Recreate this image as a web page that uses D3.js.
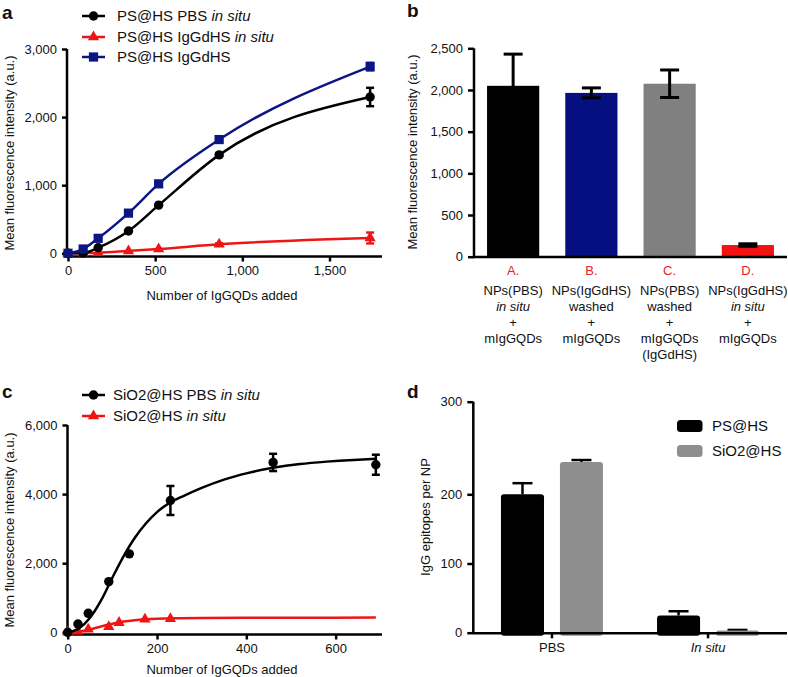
<!DOCTYPE html>
<html lang="en">
<head>
<meta charset="utf-8">
<title>IgG epitope fluorescence panels</title>
<script src="https://d3js.org/d3.v7.min.js"></script>
<style>
  body { margin: 0; background: #fff; }
  svg text { font-family: "Liberation Sans", Arial, Helvetica, sans-serif; fill: #111; }
</style>
</head>
<body>
<script>

// ---- panel a data ----
var aX = [0, 87, 173, 347, 520, 867, 1733];
var aPBS = [0, 5, 82, 327, 707, 1445, 2295];
var aPBSErr = [0, 0, 0, 0, 0, 20, 135];
var aInSitu = [0, 3, 8, 35, 63, 132, 225];
var aInSituErr = [0, 0, 0, 0, 0, 15, 80];
var aIgGdHS = [0, 63, 220, 590, 1020, 1670, 2742];
var aIgGdHSErr = [0, 0, 0, 0, 25, 25, 55];
var aYTicks = [0, 1000, 2000, 3000];
var aXTicks = [0, 500, 1000, 1500];

// ---- panel b data ----
var bCats = ["A.", "B.", "C.", "D."];
var bLines = [
  [["NPs(PBS)", false], ["in situ", true], ["+", false], ["mIgGQDs", false]],
  [["NPs(IgGdHS)", false], ["washed", false], ["+", false], ["mIgGQDs", false]],
  [["NPs(PBS)", false], ["washed", false], ["+", false], ["mIgGQDs", false], ["(IgGdHS)", false]],
  [["NPs(IgGdHS)", false], ["in situ", true], ["+", false], ["mIgGQDs", false]]
];
var bValues = [2050, 1965, 2075, 140];
var bErr = [380, 60, 165, 15];
var bColors = ["#000000", "#050f80", "#808080", "#f21212"];
var bYTicks = [0, 500, 1000, 1500, 2000, 2500];

// ---- panel c data ----
var cPBSX = [0, 23, 46, 92, 138, 230, 460, 690];
var cPBS = [0, 240, 550, 1467, 2270, 3815, 4917, 4850];
var cPBSErr = [0, 0, 0, 0, 0, 420, 250, 290];
var cPBSFitX = [0, 25, 50, 75, 100, 125, 150, 175, 200, 230, 260, 300, 350, 400, 460, 520, 580, 640, 690];
var cPBSFit = [0, 110, 420, 930, 1580, 2200, 2730, 3150, 3480, 3760, 3950, 4180, 4420, 4600, 4760, 4870, 4940, 4990, 5020];
var cInSituX = [0, 23, 46, 92, 115, 173, 230];
var cInSitu = [0, 30, 85, 160, 280, 375, 395];
var cInSituFitX = [0, 25, 50, 75, 100, 125, 150, 175, 200, 250, 300, 400, 500, 690];
var cInSituFit = [0, 20, 80, 170, 250, 310, 350, 375, 390, 405, 412, 420, 423, 425];
var cYTicks = [0, 2000, 4000, 6000];
var cXTicks = [0, 200, 400, 600];

// ---- panel d data ----
var dGroups = ["PBS", "In situ"];
var dSeries = ["PS@HS", "SiO2@HS"];
var dPS = [200, 25];
var dPSErr = [12, 6];
var dSiO2 = [235, 3];
var dSiO2Err = [2, 1];
var dColors = ["#000000", "#8e8e8e"];
var dYTicks = [0, 100, 200, 300];

var blue = "#0c1682", red = "#ee1515";

var svg = d3.select("body").append("svg")
  .attr("width", 788).attr("height", 677);

function yAxis(scale, x, ticks, top, bottom, tick) {
  var ax = svg.append("g")
    .attr("transform", "translate(" + x + ",0)")
    .call(d3.axisLeft(scale).tickValues(ticks).tickFormat(d3.format(",")).tickSize(tick).tickPadding(5));
  ax.select(".domain").remove();
  ax.selectAll(".tick line").attr("stroke", "#000").attr("stroke-width", 2.5);
  ax.selectAll(".tick text").attr("font-size", 13);
  svg.append("line").attr("x1", x).attr("x2", x).attr("y1", top).attr("y2", bottom)
    .attr("stroke", "#000").attr("stroke-width", 2.5);
}

function xAxis(scale, y, ticks, left, right, fmt) {
  var ax = svg.append("g")
    .attr("transform", "translate(0," + y + ")")
    .call(d3.axisBottom(scale).tickValues(ticks).tickFormat(fmt).tickSize(5).tickPadding(4));
  ax.select(".domain").remove();
  ax.selectAll(".tick line").attr("stroke", "#000").attr("stroke-width", 2.5);
  ax.selectAll(".tick text").attr("font-size", 13);
  svg.append("line").attr("x1", left).attr("x2", right).attr("y1", y).attr("y2", y)
    .attr("stroke", "#000").attr("stroke-width", 2.5);
}

function yTitle(text, x, y) {
  svg.append("text").attr("transform", "translate(" + x + "," + y + ") rotate(-90)")
    .attr("text-anchor", "middle").attr("font-size", 13).text(text);
}

function panelLetter(t, x, y) {
  svg.append("text").attr("x", x).attr("y", y).attr("font-size", 19)
    .attr("font-weight", "bold").text(t);
}

var shapes = { circle: d3.symbolCircle, square: d3.symbolSquare, triangle: d3.symbolTriangle };
var sizes = { circle: 70, square: 85, triangle: 55 };

function series(x, y, xs, ys, errs, color, shape, fitX, fitY) {
  var line = d3.line().curve(d3.curveMonotoneX).x(function(d) { return x(d[0]); }).y(function(d) { return y(d[1]); });
  var fx = fitX || xs, fy = fitY || ys;
  svg.append("path").datum(fx.map(function(v, i) { return [v, fy[i]]; }))
    .attr("d", line).attr("fill", "none").attr("stroke", color).attr("stroke-width", 2.5);
  xs.forEach(function(v, i) {
    var e = errs ? errs[i] : 0;
    if (e > 0) {
      var cx = x(v);
      svg.append("line").attr("x1", cx).attr("x2", cx).attr("y1", y(ys[i] - e)).attr("y2", y(ys[i] + e))
        .attr("stroke", color).attr("stroke-width", 2.5);
      [ys[i] - e, ys[i] + e].forEach(function(t) {
        svg.append("line").attr("x1", cx - 4).attr("x2", cx + 4).attr("y1", y(t)).attr("y2", y(t))
          .attr("stroke", color).attr("stroke-width", 2.5);
      });
    }
  });
  svg.selectAll(null).data(xs).enter().append("path")
    .attr("d", d3.symbol().type(shapes[shape]).size(sizes[shape]))
    .attr("transform", function(d, i) { return "translate(" + x(d) + "," + y(ys[i]) + ")"; })
    .attr("fill", color);
}

function legendRow(x, y, color, shape, plain, italic, gap) {
  svg.append("line").attr("x1", x).attr("x2", x + 23).attr("y1", y).attr("y2", y)
    .attr("stroke", color).attr("stroke-width", 2.5);
  svg.append("path").attr("d", d3.symbol().type(shapes[shape]).size(sizes[shape])())
    .attr("transform", "translate(" + (x + 11.5) + "," + y + ")").attr("fill", color);
  var t = svg.append("text").attr("x", x + gap).attr("y", y + 5).attr("font-size", 15);
  t.append("tspan").text(plain);
  if (italic) t.append("tspan").attr("font-style", "italic").text(italic);
}

// ===== panel a =====
var ax = d3.scaleLinear().domain([0, 1800]).range([68, 381.8]);
var ay = d3.scaleLinear().domain([0, 3000]).range([253.3, 49]);
yAxis(ay, 67, aYTicks, 49, 257, 5);
xAxis(ax, 256.5, aXTicks, 66, 382, d3.format(","));
yTitle("Mean fluorescence intensity (a.u.)", 14, 153);
svg.append("text").attr("x", 222).attr("y", 299.5).attr("text-anchor", "middle").attr("font-size", 13)
  .text("Number of IgGQDs added");
series(ax, ay, aX, aInSitu, aInSituErr, red, "triangle");
series(ax, ay, aX, aPBS, aPBSErr, "#000", "circle");
series(ax, ay, aX, aIgGdHS, aIgGdHSErr, blue, "square");
panelLetter("a", 2, 19);
legendRow(82, 16, "#000", "circle", "PS@HS PBS ", "in situ", 35);
legendRow(82, 37, red, "triangle", "PS@HS IgGdHS ", "in situ", 35);
legendRow(82, 57, blue, "square", "PS@HS IgGdHS", null, 35);

// ===== panel b =====
var bx = d3.scaleBand().domain(bCats).range([474, 787]).paddingInner(0.333).paddingOuter(0.1667);
var by = d3.scaleLinear().domain([0, 2500]).range([256.7, 48.3]);
svg.selectAll(null).data(bCats).enter().append("rect")
  .attr("x", function(d) { return bx(d); })
  .attr("width", bx.bandwidth())
  .attr("y", function(d, i) { return by(bValues[i]); })
  .attr("height", function(d, i) { return by(0) - by(bValues[i]); })
  .attr("fill", function(d, i) { return bColors[i]; });
bCats.forEach(function(c, i) {
  var cx = bx(c) + bx.bandwidth() / 2;
  svg.append("line").attr("x1", cx).attr("x2", cx).attr("y1", by(bValues[i] - bErr[i])).attr("y2", by(bValues[i] + bErr[i]))
    .attr("stroke", "#000").attr("stroke-width", 3);
  [bValues[i] - bErr[i], bValues[i] + bErr[i]].forEach(function(t) {
    svg.append("line").attr("x1", cx - 9.5).attr("x2", cx + 9.5).attr("y1", by(t)).attr("y2", by(t))
      .attr("stroke", "#000").attr("stroke-width", 3);
  });
  svg.append("text").attr("x", cx).attr("y", 275).attr("text-anchor", "middle").attr("font-size", 13)
    .style("fill", "#e8202a").text(c);
  bLines[i].forEach(function(l, j) {
    svg.append("text").attr("x", cx).attr("y", 294.5 + j * 16).attr("text-anchor", "middle").attr("font-size", 13)
      .attr("font-style", l[1] ? "italic" : "normal").text(l[0]);
  });
});
yAxis(by, 474, bYTicks, 48.3, 258, 6);
svg.append("line").attr("x1", 473).attr("x2", 787).attr("y1", 257).attr("y2", 257)
  .attr("stroke", "#000").attr("stroke-width", 2.5);
yTitle("Mean fluorescence intensity (a.u.)", 417, 152);
panelLetter("b", 407, 17);

// ===== panel c =====
var cx = d3.scaleLinear().domain([0, 700]).range([67.7, 380.3]);
var cy = d3.scaleLinear().domain([0, 6000]).range([632.3, 425]);
yAxis(cy, 67.5, cYTicks, 425, 635, 5);
xAxis(cx, 634.5, cXTicks, 66, 382, d3.format(","));
yTitle("Mean fluorescence intensity (a.u.)", 14, 530);
svg.append("text").attr("x", 222).attr("y", 673.5).attr("text-anchor", "middle").attr("font-size", 13)
  .text("Number of IgGQDs added");
series(cx, cy, cInSituX, cInSitu, null, red, "triangle", cInSituFitX, cInSituFit);
series(cx, cy, cPBSX, cPBS, cPBSErr, "#000", "circle", cPBSFitX, cPBSFit);
panelLetter("c", 2, 398);
legendRow(82, 395, "#000", "circle", "SiO2@HS PBS ", "in situ", 31);
legendRow(82, 416, red, "triangle", "SiO2@HS ", "in situ", 31);

// ===== panel d =====
var dx = d3.scaleBand().domain(dGroups).range([473, 787]).paddingInner(0.1).paddingOuter(0.056);
var dSub = d3.scaleBand().domain(dSeries).range([-51, 51]).paddingInner(0.27);
var dy = d3.scaleLinear().domain([0, 200, 300]).range([632.7, 494.3, 401.7]);
var dVals = [dPS, dSiO2], dErrs = [dPSErr, dSiO2Err];
dGroups.forEach(function(g, gi) {
  var gc = dx(g) + dx.bandwidth() / 2;
  dSeries.forEach(function(s, si) {
    var v = dVals[si][gi], e = dErrs[si][gi];
    var x0 = gc + dSub(s);
    var bcx = x0 + dSub.bandwidth() / 2;
    svg.append("line").attr("x1", bcx).attr("x2", bcx).attr("y1", dy(v)).attr("y2", dy(v + e))
      .attr("stroke", "#000").attr("stroke-width", 2.5);
    svg.append("line").attr("x1", bcx - 10).attr("x2", bcx + 10).attr("y1", dy(v + e)).attr("y2", dy(v + e))
      .attr("stroke", "#000").attr("stroke-width", 2.5);
    svg.append("rect").attr("x", x0).attr("width", dSub.bandwidth())
      .attr("y", dy(v)).attr("height", dy(0) - dy(v) + 3)
      .attr("rx", 3).attr("fill", dColors[si]);
  });
});
yAxis(dy, 473.3, dYTicks, 401.7, 634, 6);
xAxis(dx, 633.3, dGroups, 473, 787, function(d) { return d; });
svg.selectAll(".tick text").filter(function(d) { return d === "In situ"; }).attr("font-style", "italic");
yTitle("IgG epitopes per NP", 430, 517);
panelLetter("d", 407, 398);
dSeries.forEach(function(s, i) {
  var ly = 426 + i * 25;
  svg.append("rect").attr("x", 677).attr("y", ly - 6).attr("width", 25.5).attr("height", 12)
    .attr("rx", 3.5).attr("fill", dColors[i]);
  svg.append("text").attr("x", 712).attr("y", ly + 5).attr("font-size", 15).text(s);
});

</script>
</body>
</html>
